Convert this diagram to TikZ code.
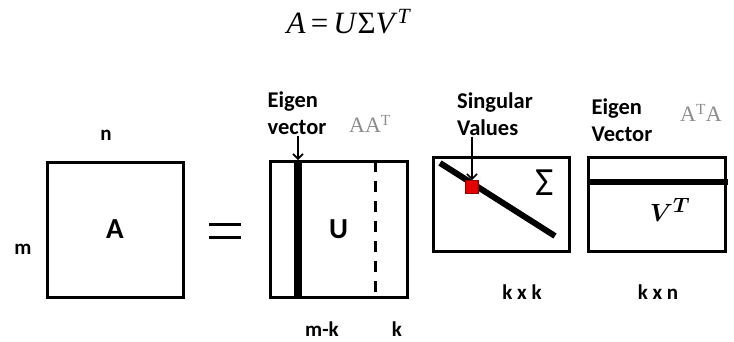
\documentclass[tikz,border=0pt]{standalone}
\usepackage{fontspec}
\usepackage{bm}
\setmainfont{Liberation Serif}
\newfontfamily\calib{Carlito}
\usetikzlibrary{arrows.meta}

\tikzset{
  mbox/.style={draw, line width=3pt, inner sep=0pt},
  lbl/.style={font=\calib\bfseries\fontsize{21}{26}\selectfont, inner sep=1pt},
  note/.style={lbl, align=left, font=\calib\bfseries\fontsize{22.5}{27}\selectfont},
  gtxt/.style={text=black!45, font=\fontsize{22}{24}\selectfont, inner sep=1pt},
  callout/.style={-{Straight Barb[length=5pt,width=10pt]}, line width=1.6pt},
}

\begin{document}
\begin{tikzpicture}[x=1pt, y=-1pt]
  \useasboundingbox (0,0) rectangle (734,341);

  % formula
  \node[anchor=base, font=\fontsize{31}{36}\selectfont] (title) at (349,33)
    {\textit{A}\,=\,\textit{U}Σ\textit{V}\textsuperscript{\textit{T}}};

  % A
  \node[mbox, minimum width=136, minimum height=135,
        font=\calib\bfseries\fontsize{29}{30}\selectfont] (matA) at (115,229.5) {A};
  \node[lbl] (dimn) at (106,135) {n};
  \node[lbl] (dimm) at (23,249) {m};

  % =
  \draw[line width=3pt] (209,224) -- (241,224) (209,237) -- (241,237);

  % U
  \node[mbox, minimum width=137, minimum height=136,
        font=\calib\bfseries\fontsize{29}{30}\selectfont] (matU) at (338.5,229) {U};
  \fill (294,161) rectangle (302,297);
  \draw[line width=3pt, dash pattern=on 11pt off 9pt] (375,161) -- (375,297);
  \coordinate (utop) at (298,160);
  \node[note] (eigU) at (297,113) {Eigen\\vector};
  \node[gtxt] (aat) at (370,124) {AA\textsuperscript{T}};
  \draw[callout] (eigU.south -| utop) -- (utop);
  \node[lbl, anchor=base] (dimmk) at (322,336) {m-k};
  \node[lbl, anchor=base] (dimk) at (397,336) {k};

  % Sigma
  \node[mbox, minimum width=136, minimum height=94] (matS) at (501,204) {};
  \draw[line width=6pt] (440,163) -- (555,236);
  \node[draw=red!55!black, fill=red!90!black, line width=0.8pt,
        minimum size=13, inner sep=0pt] (sv) at (472,187) {};
  \node[font=\calib\fontsize{40}{40}\selectfont, inner sep=0pt] (sig) at (545,183) {Σ};
  \node[note] (sing) at (495,114) {Singular\\Values};
  \draw[callout] (sing.south -| sv) -- (sv.north);
  \node[lbl] (dimkk) at (522,292) {k x k};

  % V^T
  \node[mbox, minimum width=137, minimum height=94] (matV) at (656.5,204) {};
  \draw[line width=6pt] (588,182) -- (728,182);
  \node[font=\fontsize{31}{32}\selectfont, inner sep=0pt] (vt) at (670,210)
    {$\bm{V}^{\bm{T}}$};
  \node[note] (eigV) at (622,120) {Eigen\\Vector};
  \node[gtxt] (ata) at (701,113) {A\textsuperscript{T}A};
  \node[lbl] (dimkn) at (658,292) {k x n};
\end{tikzpicture}
\end{document}
